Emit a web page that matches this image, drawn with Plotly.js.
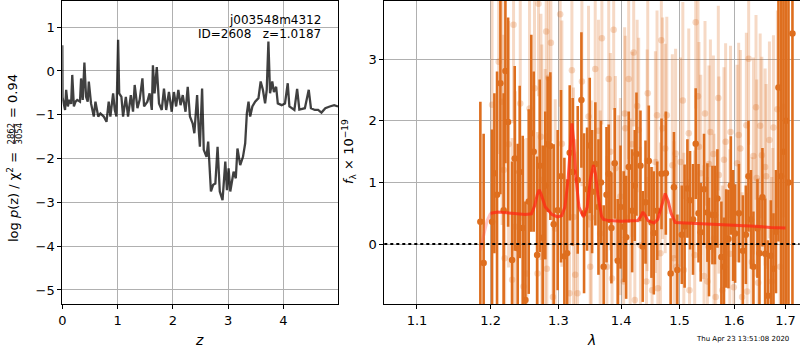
<!DOCTYPE html>
<html>
<head>
<meta charset="utf-8">
<script src="https://cdn.plot.ly/plotly-3.0.1.min.js"></script>
<style>html,body{margin:0;padding:0;background:#fff;}#chart{width:800px;height:350px;}</style>
</head>
<body>
<div id="chart"></div>
<script>
// ---- Left panel: log p(z) ----
const pzZ = [0.000,0.004,0.05,0.07,0.10,0.13,0.16,0.18,0.21,0.24,
0.27,0.32,0.34,0.37,0.40,0.43,0.46,0.48,0.52,0.57,
0.60,0.65,0.69,0.75,0.80,0.84,0.87,0.92,0.95,0.98,
1.01,1.03,1.07,1.10,1.15,1.19,1.24,1.28,1.31,1.36,
1.40,1.45,1.48,1.54,1.58,1.62,1.64,1.67,1.71,1.75,
1.80,1.84,1.88,1.93,1.98,2.02,2.06,2.10,2.14,2.18,
2.23,2.27,2.31,2.36,2.39,2.44,2.47,2.49,2.53,2.56,
2.61,2.64,2.69,2.73,2.77,2.81,2.85,2.90,2.95,2.98,
3.01,3.04,3.10,3.14,3.17,3.22,3.27,3.31,3.34,3.37,
3.40,3.44,3.49,3.55,3.59,3.63,3.67,3.70,3.73,3.76,
3.80,3.83,3.87,3.90,3.97,4.03,4.08,4.11,4.20,4.25,
4.29,4.39,4.46,4.50,4.57,4.63,4.69,4.76,4.84,4.92,
4.99];
const pzLog = [0.59,-0.60,-0.89,-0.43,-0.81,-0.66,-0.75,-0.09,-0.81,-0.70,
-0.66,-0.70,-0.17,-0.66,0.19,-0.59,-0.70,-0.24,-0.74,-1.04,
-0.70,-1.04,-0.97,-1.04,-1.16,-0.70,-1.04,-0.51,-0.89,-1.04,
0.71,-0.51,-0.59,-1.04,-0.59,-1.04,-0.55,-0.93,-0.32,-0.85,
-0.66,-0.17,-0.81,-0.70,-0.51,-0.89,0.13,-0.51,0.09,-0.74,
-0.89,-0.40,-0.89,-0.48,-0.93,-0.48,-0.81,-0.43,-0.78,-0.55,
-0.93,-0.36,-1.04,-1.20,-1.42,-0.55,-1.35,-1.73,-0.40,-1.80,
-1.96,-1.61,-2.75,-2.60,-2.57,-1.73,-2.75,-2.95,-2.07,-2.72,
-2.22,-2.75,-2.30,-2.45,-1.77,-2.15,-1.96,-1.65,-0.97,-0.70,
-1.04,-0.81,-0.70,-0.62,-0.24,-0.43,-0.74,-0.43,0.67,-0.51,
-0.24,-0.48,-0.36,-0.74,-0.78,-0.74,-0.28,-0.81,-0.89,-0.41,
-0.88,-0.85,-0.43,-0.85,-0.89,-0.89,-0.95,-0.85,-0.81,-0.78,
-0.81];
const zTicks = [0,1,2,3,4];
const zTickText = ['0','1','2','3','4'];
const lpTicks = [-5,-4,-3,-2,-1,0,1];
const lpTickText = ['\u22125','\u22124','\u22123','\u22122','\u22121','0','1'];

// ---- Right panel: spectrum ----
const darkWave = [1.1855,1.1901,1.2020,1.2053,1.2091,1.2139,1.2186,1.2211,1.2250,1.2308,
1.2346,1.2390,1.2419,1.2463,1.2503,1.2552,1.2590,1.2626,1.2677,1.2716,
1.2761,1.2800,1.2836,1.2877,1.2928,1.2989,1.3040,1.3092,1.3134,1.3175,
1.3221,1.3300,1.3358,1.3400,1.3448,1.3490,1.3528,1.3580,1.3630,1.3670,
1.3714,1.3760,1.3796,1.3840,1.3894,1.3943,1.3990,1.4043,1.4083,1.4126,
1.4183,1.4227,1.4256,1.4323,1.4362,1.4409,1.4465,1.4511,1.4551,1.4610,
1.4684,1.4759,1.4843,1.4901,1.4961,1.5040,1.5090,1.5140,1.5187,1.5240,
1.5289,1.5340,1.5380,1.5440,1.5502,1.5531,1.5594,1.5640,1.5686,1.5760,
1.5808,1.5849,1.5892,1.5937,1.5980,1.6018,1.6090,1.6165,1.6222,1.6272,
1.6320,1.6368,1.6446,1.6485,1.6543,1.6596,1.6649,1.6708,1.6760,1.6810,
1.6859,1.6913,1.6960,1.7010,1.7060,1.7140];
const darkFlux = [0.36,-0.31,0.36,1.15,0.80,2.61,0.55,2.81,1.98,-0.26,
1.39,-0.07,1.17,0.26,-0.91,0.69,1.80,1.50,-0.18,1.27,
0.10,0.95,1.62,1.59,0.32,0.55,1.10,-0.20,-0.15,1.48,
1.17,1.04,2.34,0.50,0.89,1.60,0.85,1.30,0.60,1.00,
-0.37,0.80,1.14,0.26,1.31,-0.27,0.60,0.28,0.11,1.25,
0.54,0.95,1.46,1.27,-0.04,0.68,1.35,0.35,0.18,0.54,
1.14,1.15,-0.48,0.92,-0.42,0.15,0.29,0.90,0.71,0.40,
1.63,0.50,0.19,0.89,0.51,-0.05,0.47,0.47,0.74,-0.21,
-0.37,0.09,0.08,0.95,0.30,0.17,0.50,-0.11,0.15,1.10,
0.40,-0.37,0.25,-0.15,0.76,-0.16,-0.84,-0.19,-0.40,0.20,
2.54,1.10,1.50,2.00,1.00,3.42];
const darkErr = [1.95,2.1,1.5,1.3,2.0,1.8,1.9,1.5,1.7,1.6,
1.5,1.7,1.4,1.5,1.6,1.5,1.6,1.3,1.6,1.4,
1.5,1.2,1.1,1.2,1.3,1.3,1.4,1.6,1.2,1.1,
1.2,1.2,1.1,1.3,1.0,1.1,1.0,1.0,1.1,1.0,
1.0,1.1,0.8,0.9,0.9,1.0,1.0,0.9,1.0,0.9,
1.0,0.9,1.0,0.9,0.9,1.0,0.9,0.9,1.0,0.8,
0.9,1.0,0.9,0.9,0.9,0.8,1.0,0.8,0.8,0.9,
0.9,0.8,0.8,0.9,0.8,0.8,0.8,0.8,0.8,0.9,
0.8,0.8,0.8,0.8,0.9,0.8,0.8,0.9,0.8,0.9,
0.8,0.9,0.8,0.9,0.8,0.9,0.9,0.9,0.9,1.0,
2.5,3.0,6.0,6.0,6.0,6.0];

const lightWave = [1.2020,1.2114,1.2164,1.2186,1.2200,1.2257,1.2308,1.2329,1.2354,1.2427,
1.2475,1.2525,1.2564,1.2638,1.2683,1.2698,1.2734,1.2748,1.2799,1.2814,
1.2824,1.2849,1.2885,1.2916,1.2951,1.3027,1.3053,1.3172,1.3209,1.3234,
1.3261,1.3297,1.3366,1.3471,1.3498,1.3514,1.3578,1.3630,1.3658,1.3685,
1.3766,1.3796,1.3823,1.3850,1.3877,1.3905,1.3959,1.3987,1.4042,1.4058,
1.4069,1.4125,1.4150,1.4182,1.4209,1.4228,1.4267,1.4293,1.4323,1.4425,
1.4437,1.4447,1.4521,1.4578,1.4606,1.4620,1.4665,1.4681,1.4703,1.4748,
1.4776,1.4873,1.4901,1.4930,1.4946,1.5017,1.5058,1.5076,1.5164,1.5177,
1.5271,1.5289,1.5330,1.5348,1.5380,1.5440,1.5458,1.5502,1.5531,1.5557,
1.5612,1.5623,1.5654,1.5703,1.5714,1.5778,1.5808,1.5839,1.5918,1.5931,
1.5992,1.6055,1.6085,1.6117,1.6150,1.6232,1.6245,1.6276,1.6338,1.6368,
1.6418,1.6431,1.6460,1.6499,1.6531,1.6596,1.6615,1.6680,1.6726,1.6746,
1.6760,1.6838,1.6893,1.6959];
const lightFlux = [2.26,2.96,2.31,1.20,-0.23,1.62,-0.58,3.56,0.28,2.28,
-0.69,-0.48,2.20,2.53,-0.48,3.90,1.74,1.04,0.74,3.45,
-0.40,2.70,3.27,-0.86,0.25,3.73,1.63,-0.80,2.82,0.44,
-0.50,-0.80,2.64,2.07,-0.37,0.43,2.84,1.84,0.17,3.34,
-0.37,2.68,1.50,-0.56,3.48,1.23,0.39,0.77,-0.61,2.12,
1.88,2.68,0.44,1.62,3.11,-0.91,2.24,1.85,-0.02,-0.61,
1.36,2.45,-0.75,1.33,2.09,-0.72,-0.15,3.31,1.88,1.55,
2.09,1.28,-0.23,1.47,-0.37,1.33,2.33,-0.42,1.80,-0.75,
-0.18,3.60,2.40,1.58,1.15,-0.52,2.12,-0.61,1.30,1.82,
1.46,0.09,-0.86,2.37,1.12,-0.75,1.37,1.66,-0.16,1.82,
-0.70,1.31,1.77,1.55,-0.86,1.93,-0.77,3.01,-0.29,1.43,
2.22,1.07,-0.63,1.92,1.44,1.25,1.10,1.69,-0.61,-0.04,
1.89,2.19,-0.37,2.23];
const lightErr = [1.8,1.5,2.0,2.2,2.4,2.0,2.3,1.6,2.2,1.9,
2.4,2.2,2.0,1.8,2.3,1.5,2.0,2.2,2.1,1.6,
2.2,1.9,1.6,2.4,2.1,1.5,2.0,2.3,1.7,2.1,
2.2,2.3,1.7,1.8,2.0,1.9,1.5,1.8,2.0,1.4,
1.8,1.4,1.6,1.9,1.3,1.5,1.7,1.6,1.8,1.4,
1.5,1.3,1.6,1.5,1.2,1.9,1.4,1.5,1.6,1.7,
1.8,1.7,2.0,1.8,1.7,1.9,1.8,1.5,1.8,1.7,
1.6,1.8,1.9,1.7,1.8,1.7,1.6,1.9,1.7,1.8,
1.7,1.4,1.6,1.7,1.6,1.8,1.5,1.7,1.6,1.5,
1.6,1.7,1.8,1.5,1.6,1.7,1.5,1.6,1.7,1.4,
1.7,1.6,1.5,1.6,1.7,1.5,1.6,1.4,1.7,1.6,
1.5,1.6,1.7,1.5,1.6,1.6,1.5,1.6,1.7,1.6,
1.5,1.6,1.7,1.8];

const modelWave = [1.1854,1.1900,1.1950,1.2000,1.2100,1.2300,1.2500,1.2593,1.2640,1.2680,
1.2709,1.2740,1.2800,1.2900,1.2985,1.3050,1.3100,1.3150,1.3185,1.3209,
1.3235,1.3270,1.3320,1.3390,1.3450,1.3500,1.3550,1.3580,1.3620,1.3680,
1.3710,1.3800,1.4000,1.4200,1.4278,1.4330,1.4365,1.4400,1.4450,1.4555,
1.4620,1.4680,1.4748,1.4800,1.4850,1.4924,1.5200,1.5500,1.5800,1.6100,
1.6400,1.6700,1.7000];
const modelFlux = [-0.10,0.15,0.38,0.50,0.52,0.50,0.48,0.49,0.62,0.80,
0.88,0.80,0.60,0.48,0.44,0.46,0.60,1.05,1.60,1.96,
1.70,1.10,0.60,0.44,0.60,1.05,1.28,1.15,0.80,0.45,
0.40,0.38,0.37,0.37,0.38,0.45,0.52,0.47,0.38,0.34,
0.40,0.60,0.82,0.70,0.50,0.35,0.34,0.33,0.31,0.30,
0.29,0.27,0.26];

const lamTicks = [1.1,1.2,1.3,1.4,1.5,1.6,1.7];
const lamTickText = ['1.1','1.2','1.3','1.4','1.5','1.6','1.7'];
const fTicks = [0,1,2,3];
const fTickText = ['0','1','2','3'];

// ---- layout helpers ----
const W = 800, H = 350;
const px = x => x / W;
const py = y => (H - y) / H;
const FONT = 'DejaVu Sans, sans-serif';
const ORANGE = 'rgb(222,110,30)';
const ORANGE_LIGHT = 'rgba(222,110,30,0.26)';

const split = modelWave.findIndex(w => w >= 1.2);

const traces = [
  {x: pzZ, y: pzLog, xaxis: 'x', yaxis: 'y', type: 'scatter', mode: 'lines',
   line: {color: 'rgba(0,0,0,0.75)', width: 2.3}, hoverinfo: 'skip'},
  {x: lightWave, y: lightFlux, xaxis: 'x2', yaxis: 'y2', type: 'scatter', mode: 'markers',
   marker: {color: ORANGE_LIGHT, size: 6.5},
   error_y: {type: 'data', array: lightErr, visible: true, thickness: 3, width: 0, color: ORANGE_LIGHT},
   hoverinfo: 'skip'},
  {x: darkWave, y: darkFlux, xaxis: 'x2', yaxis: 'y2', type: 'scatter', mode: 'markers',
   marker: {color: ORANGE, size: 6.5},
   error_y: {type: 'data', array: darkErr, visible: true, thickness: 2.6, width: 0, color: ORANGE},
   hoverinfo: 'skip'},
  {x: modelWave.slice(0, split + 1), y: modelFlux.slice(0, split + 1), xaxis: 'x2', yaxis: 'y2',
   type: 'scatter', mode: 'lines', line: {color: 'rgba(255,90,90,0.35)', width: 3}, hoverinfo: 'skip'},
  {x: modelWave.slice(split), y: modelFlux.slice(split), xaxis: 'x2', yaxis: 'y2',
   type: 'scatter', mode: 'lines', line: {color: 'rgba(255,40,20,0.75)', width: 3}, hoverinfo: 'skip'}
];

const axisCommon = {
  showgrid: true, gridcolor: '#b0b0b0', gridwidth: 1, zeroline: false,
  showline: true, mirror: true, linecolor: '#000', linewidth: 1,
  ticks: 'outside', ticklen: 4, tickcolor: '#000', tickwidth: 1,
  tickfont: {family: FONT, size: 13, color: '#000'}, tickmode: 'array', fixedrange: true
};

const layout = {
  width: W, height: H, showlegend: false,
  margin: {l: 0, r: 0, t: 0, b: 0, pad: 0},
  paper_bgcolor: '#fff', plot_bgcolor: '#fff',
  font: {family: FONT, size: 13, color: '#000'},
  xaxis: Object.assign({}, axisCommon, {domain: [px(62.3), px(338.3)], range: [0, 4.995],
    tickvals: zTicks, ticktext: zTickText, anchor: 'y'}),
  yaxis: Object.assign({}, axisCommon, {domain: [py(304), py(1)], range: [-5.32, 1.598],
    tickvals: lpTicks, ticktext: lpTickText, anchor: 'x'}),
  xaxis2: Object.assign({}, axisCommon, {domain: [px(384.3), px(799.5)], type: 'log',
    range: [0.02462, 0.23763], tickvals: lamTicks, ticktext: lamTickText, anchor: 'y2'}),
  yaxis2: Object.assign({}, axisCommon, {domain: [py(304), py(1)], range: [-0.974, 3.946],
    tickvals: fTicks, ticktext: fTickText, anchor: 'x2'}),
  shapes: [
    {type: 'line', xref: 'x2 domain', yref: 'y2', x0: 0, x1: 1, y0: 0, y1: 0,
     line: {color: '#000', width: 2, dash: 'dot'}, layer: 'above'},
    {type: 'line', xref: 'paper', yref: 'paper', x0: px(14.6), x1: px(14.6), y0: py(124), y1: py(144),
     line: {color: '#000', width: 0.8}}
  ],
  annotations: [
    {xref: 'paper', yref: 'paper', x: px(323), y: py(20), xanchor: 'right', yanchor: 'middle',
     text: 'j003548m4312', showarrow: false, font: {family: FONT, size: 12, color: '#000'}},
    {xref: 'paper', yref: 'paper', x: px(323), y: py(34.5), xanchor: 'right', yanchor: 'middle',
     text: 'ID=2608\u00a0\u00a0\u00a0z=1.0187', showarrow: false, font: {family: FONT, size: 12, color: '#000'}},
    {xref: 'paper', yref: 'paper', x: px(199), y: py(340), xanchor: 'center', yanchor: 'middle',
     text: '<i>z</i>', showarrow: false, font: {family: FONT, size: 14, color: '#000'}},
    {xref: 'paper', yref: 'paper', x: px(591), y: py(340), xanchor: 'center', yanchor: 'middle',
     text: '<i>λ</i>', showarrow: false, font: {family: FONT, size: 14, color: '#000'}},
    {xref: 'paper', yref: 'paper', x: px(742), y: py(339), xanchor: 'center', yanchor: 'middle',
     text: 'Thu Apr 23 13:51:08 2020', showarrow: false, font: {family: FONT, size: 7, color: '#000'}},
    {xref: 'paper', yref: 'paper', x: px(349), y: py(152), xanchor: 'center', yanchor: 'middle', textangle: -90,
     text: '<i>f</i><sub>λ</sub> × 10<sup>−19</sup>', showarrow: false, font: {family: FONT, size: 13, color: '#000'}},
    {xref: 'paper', yref: 'paper', x: px(13), y: py(197), xanchor: 'center', yanchor: 'middle', textangle: -90,
     text: 'log <i>p</i>(z) / χ<sup>2</sup> =', showarrow: false, font: {family: FONT, size: 13, color: '#000'}},
    {xref: 'paper', yref: 'paper', x: px(10.5), y: py(134), xanchor: 'center', yanchor: 'middle', textangle: -90,
     text: '2862', showarrow: false, font: {family: FONT, size: 8.5, color: '#000'}},
    {xref: 'paper', yref: 'paper', x: px(18.5), y: py(134), xanchor: 'center', yanchor: 'middle', textangle: -90,
     text: '3054', showarrow: false, font: {family: FONT, size: 8.5, color: '#000'}},
    {xref: 'paper', yref: 'paper', x: px(13), y: py(96), xanchor: 'center', yanchor: 'middle', textangle: -90,
     text: '= 0.94', showarrow: false, font: {family: FONT, size: 13, color: '#000'}}
  ]
};

Plotly.newPlot('chart', traces, layout, {displayModeBar: false, staticPlot: true});
</script>
</body>
</html>
